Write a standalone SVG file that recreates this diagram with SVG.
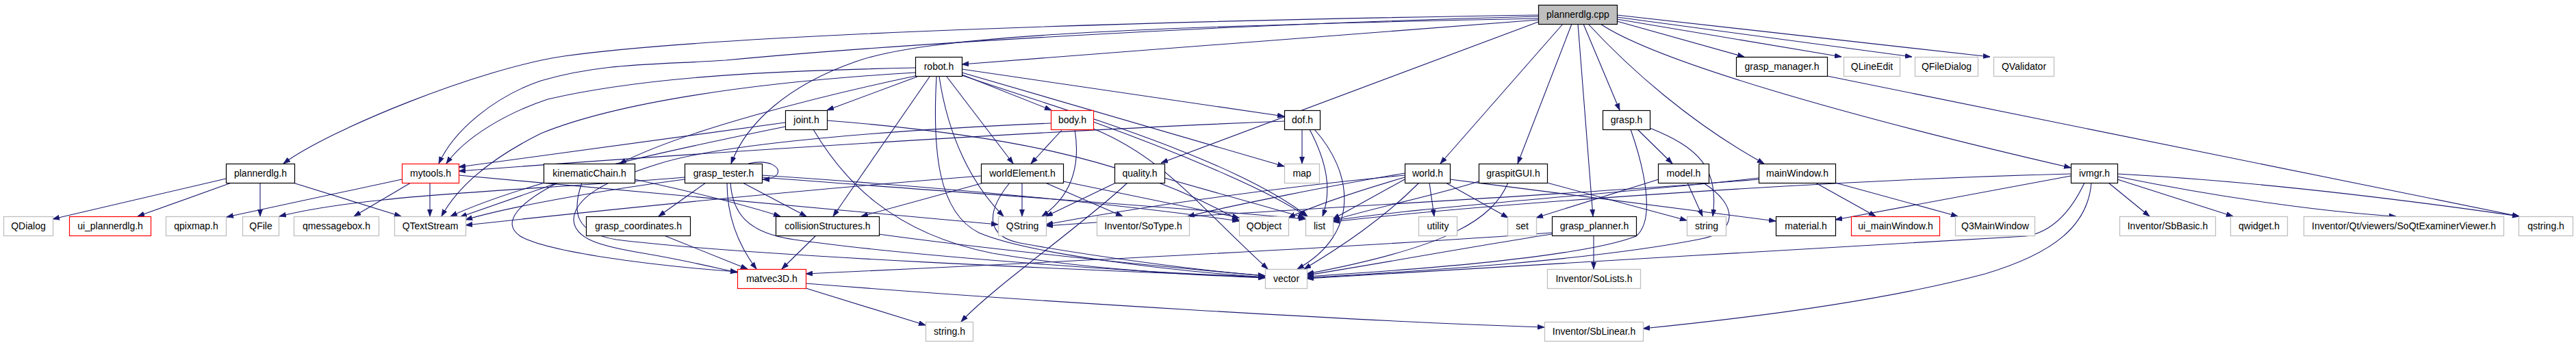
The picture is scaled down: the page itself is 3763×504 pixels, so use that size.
<svg xmlns="http://www.w3.org/2000/svg" width="3763" height="504" viewBox="0 0 3763 504">
<style>
.n rect{fill:#fff;stroke:#000;stroke-width:1.2}
.n.g rect{stroke:#bfbfbf;stroke-width:1.3}
.n.r rect{stroke:#ff0000;stroke-width:1.2}
.n.root rect{fill:#bfbfbf;stroke:#000}
.n text{font-family:"Liberation Sans",Arial,sans-serif;font-size:14px;fill:#000;text-anchor:middle}
#edges path{fill:none;stroke:#191970;stroke-width:1.1;marker-end:url(#a)}
</style>
<defs>
<marker id="a" markerWidth="11" markerHeight="8" refX="10" refY="4" orient="auto" markerUnits="userSpaceOnUse">
<path d="M0,0.5 L10,4 L0,7.5 z" fill="#191970" stroke="#191970" stroke-width="0.8"/>
</marker>
</defs>
<rect width="3763" height="504" fill="#fff"/>
<g id="edges">
<!-- plannerdlg.cpp -->
<path d="M2247,22 C1700,30 1050,50 824,82 C700,100 480,190 414,239"/>
<path d="M2247,24 C1800,35 1300,65 1060,88 C950,95 880,92 790,118 C720,142 662,192 641,239"/>
<path d="M2247,29 L1405,94"/>
<path d="M2247,27 C1600,40 1350,55 1250,90 C1150,125 1090,180 1068,239"/>
<path d="M2247,32 L1696,238"/>
<path d="M2283,35 L2104,239"/>
<path d="M2296,35 L2217,239"/>
<path d="M2305,35 L2327,316"/>
<path d="M2313,35 L2366,161"/>
<path d="M2320,35 C2380,100 2470,180 2577,239"/>
<path d="M2338,35 C2420,90 2700,170 3025,245"/>
<path d="M2362,31 L2548,83"/>
<path d="M2362,28 L2690,83"/>
<path d="M2362,25 L2793,83"/>
<path d="M2362,22 L2907,83"/>
<!-- plannerdlg.h -->
<path d="M330,261 L77,320"/>
<path d="M338,267 L201,316"/>
<path d="M380,267 L380,316"/>
<path d="M428,267 L586,316"/>
<!-- mytools.h -->
<path d="M587,262 L331,317"/>
<path d="M600,267 L517,316"/>
<path d="M628,267 L628,316"/>
<path d="M670,256 L1458,328"/>
<!-- robot.h -->
<path d="M1337,99 C1150,103 950,110 800,145 C740,165 680,200 652,239"/>
<path d="M1337,106 C1100,120 900,150 790,195 C720,230 670,270 645,316"/>
<path d="M1337,111 C1200,140 1000,190 905,239"/>
<path d="M1340,112 L1208,161"/>
<path d="M1358,112 L1217,316"/>
<path d="M1368,112 C1362,220 1370,310 1430,340 C1500,370 1700,395 1848,405"/>
<path d="M1372,112 C1385,200 1420,270 1466,316"/>
<path d="M1383,112 L1480,239"/>
<path d="M1405,109 L1536,161"/>
<path d="M1405,101 L1876,170"/>
<path d="M1405,106 L1876,243"/>
<path d="M1405,110 C1550,160 1800,230 1910,316"/>
<!-- joint.h -->
<path d="M1147,179 L670,244"/>
<path d="M1147,185 C1000,215 780,260 658,316"/>
<path d="M1188,189 C1230,260 1300,340 1450,370 C1600,395 1750,402 1848,406"/>
<path d="M1208,176 C1450,195 1650,230 1810,322"/>
<!-- body.h -->
<path d="M1552,189 L1506,239"/>
<path d="M1570,189 C1580,250 1560,290 1522,316"/>
<path d="M1597,178 C1700,215 1850,275 1908,316"/>
<path d="M1597,188 C1700,230 1750,300 1852,393"/>
<path d="M1535,180 C1300,190 1050,210 960,240 C880,265 840,290 838,320 C838,350 880,360 940,370 C1000,380 1040,390 1077,398"/>
<!-- dof.h -->
<path d="M1902,189 L1902,239"/>
<path d="M1913,189 C1940,240 1945,280 1932,316"/>
<path d="M1920,189 C1975,250 1990,340 1895,393"/>
<path d="M1876,177 C1500,192 1000,225 670,250"/>
<!-- kinematicChain.h -->
<path d="M815,267 L672,317"/>
<path d="M927,262 C1010,280 1090,300 1140,316"/>
<path d="M815,267 C760,295 730,325 760,345 C800,368 950,388 1077,397"/>
<path d="M850,267 C835,310 840,340 900,350 C1100,375 1600,395 1848,405"/>
<!-- grasp_tester.h -->
<path d="M1093,239 C1125,232 1142,245 1135,255 C1131,260 1125,262 1114,262"/>
<path d="M1031,267 L962,316"/>
<path d="M1085,267 L1178,316"/>
<path d="M1062,267 C1062,320 1080,360 1105,393"/>
<path d="M1000,262 C900,275 750,300 680,321"/>
<path d="M1000,259 C850,272 650,281 560,292 C480,300 440,308 408,316"/>
<path d="M1067,267 C1070,310 1090,340 1160,350 C1300,370 1600,395 1848,405"/>
<path d="M1113,256 C1400,275 1650,300 1810,323"/>
<path d="M1113,259 C1450,285 1750,305 1907,320"/>
<!-- grasp_coordinates.h / collisionStructures.h -->
<path d="M970,344 L1092,393"/>
<path d="M1192,344 L1142,393"/>
<path d="M1283,342 C1450,365 1700,390 1848,403"/>
<!-- worldElement.h -->
<path d="M1493,267 L1493,316"/>
<path d="M1437,267 L1258,316"/>
<path d="M1433,257 C1200,275 900,305 680,329"/>
<path d="M1475,267 C1440,310 1440,345 1490,355 C1600,375 1750,395 1848,403"/>
<path d="M1527,267 L1640,316"/>
<path d="M1553,265 C1650,285 1750,305 1810,318"/>
<!-- quality.h -->
<path d="M1630,267 L1528,316"/>
<path d="M1647,267 C1580,330 1450,420 1404,470"/>
<path d="M1701,260 L1906,318"/>
<!-- world.h -->
<path d="M2088,267 L2095,316"/>
<path d="M2112,267 L2203,318"/>
<path d="M2073,267 C2020,320 1960,360 1905,393"/>
<path d="M2052,262 L1947,320"/>
<path d="M2052,256 C1850,275 1650,305 1528,328"/>
<path d="M2052,253 C1950,270 1800,300 1735,316"/>
<path d="M2052,259 C1980,280 1920,300 1882,318"/>
<path d="M2118,262 C2300,285 2500,310 2594,323"/>
<!-- graspitGUI.h -->
<path d="M2203,267 C2180,320 2120,360 1909,400"/>
<path d="M2160,265 C2100,285 2000,305 1947,322"/>
<path d="M2260,267 L2464,322"/>
<!-- grasp.h / model.h -->
<path d="M2392,189 L2443,239"/>
<path d="M2410,187 C2480,215 2512,245 2502,316"/>
<path d="M2382,189 C2400,240 2420,320 2390,345 C2300,380 2000,398 1909,404"/>
<path d="M2423,262 L2244,318"/>
<path d="M2465,267 L2487,316"/>
<path d="M2488,267 C2540,300 2540,340 2480,350 C2300,385 2000,400 1909,406"/>
<!-- grasp_planner.h -->
<path d="M2328,344 L2328,393"/>
<path d="M2267,342 C2150,360 2000,388 1909,402"/>
<path d="M2267,340 C2000,360 1500,385 1177,400"/>
<!-- mainWindow.h -->
<path d="M2652,267 L2740,316"/>
<path d="M2681,267 L2860,316"/>
<path d="M2569,260 C2400,280 2100,300 1947,322"/>
<path d="M2569,262 C2300,285 1800,310 1528,330"/>
<!-- ivmgr.h -->
<path d="M3025,257 L2681,321"/>
<path d="M3025,254 C2700,262 2200,295 1947,324"/>
<path d="M3045,267 C3020,320 2990,340 2960,345 C2700,360 2100,395 1909,407"/>
<path d="M3055,267 C3050,330 3000,370 2900,400 C2750,440 2550,465 2400,480"/>
<path d="M3080,267 L3140,316"/>
<path d="M3093,262 L3262,316"/>
<path d="M3093,258 C3250,290 3400,310 3500,316"/>
<path d="M3093,254 C3300,265 3500,290 3680,316"/>
<!-- grasp_manager.h -->
<path d="M2669,111 L3680,316"/>
<!-- matvec3D.h -->
<path d="M1177,421 L1352,475"/>
<path d="M1177,414 C1500,440 2000,470 2256,478"/>
</g>
<!-- rank 0 -->
<g id="n_plannerdlg_cpp" class="n root"><rect x="2247.5" y="7.5" width="115" height="28"/><text x="2305" y="26">plannerdlg.cpp</text></g>
<!-- rank 1 -->
<g id="n_robot_h" class="n"><rect x="1337.5" y="83.5" width="68" height="28"/><text x="1371.5" y="102">robot.h</text></g>
<g id="n_grasp_manager_h" class="n"><rect x="2536.5" y="83.5" width="133" height="28"/><text x="2603" y="102">grasp_manager.h</text></g>
<g id="n_QLineEdit" class="n g"><rect x="2693.5" y="83.5" width="82" height="28"/><text x="2734.5" y="102">QLineEdit</text></g>
<g id="n_QFileDialog" class="n g"><rect x="2797.5" y="83.5" width="92" height="28"/><text x="2843.5" y="102">QFileDialog</text></g>
<g id="n_QValidator" class="n g"><rect x="2912.5" y="83.5" width="88" height="28"/><text x="2956.5" y="102">QValidator</text></g>
<!-- rank 2 -->
<g id="n_joint_h" class="n"><rect x="1147.5" y="161.5" width="61" height="28"/><text x="1178" y="180">joint.h</text></g>
<g id="n_body_h" class="n r"><rect x="1535.5" y="161.5" width="62" height="28"/><text x="1566.5" y="180">body.h</text></g>
<g id="n_dof_h" class="n"><rect x="1876.5" y="161.5" width="52" height="28"/><text x="1902.5" y="180">dof.h</text></g>
<g id="n_grasp_h" class="n"><rect x="2341.5" y="161.5" width="69" height="28"/><text x="2376" y="180">grasp.h</text></g>
<!-- rank 3 -->
<g id="n_plannerdlg_h" class="n"><rect x="330.5" y="239.5" width="100" height="28"/><text x="380.5" y="258">plannerdlg.h</text></g>
<g id="n_mytools_h" class="n r"><rect x="587.5" y="239.5" width="83" height="28"/><text x="629" y="258">mytools.h</text></g>
<g id="n_kinematicChain_h" class="n"><rect x="794.5" y="239.5" width="133" height="28"/><text x="861" y="258">kinematicChain.h</text></g>
<g id="n_grasp_tester_h" class="n"><rect x="1000.5" y="239.5" width="113" height="28"/><text x="1057" y="258">grasp_tester.h</text></g>
<g id="n_worldElement_h" class="n"><rect x="1433.5" y="239.5" width="120" height="28"/><text x="1493.5" y="258">worldElement.h</text></g>
<g id="n_quality_h" class="n"><rect x="1628.5" y="239.5" width="73" height="28"/><text x="1665" y="258">quality.h</text></g>
<g id="n_map" class="n g"><rect x="1876.5" y="239.5" width="51" height="28"/><text x="1902" y="258">map</text></g>
<g id="n_world_h" class="n"><rect x="2052.5" y="239.5" width="66" height="28"/><text x="2085.5" y="258">world.h</text></g>
<g id="n_graspitGUI_h" class="n"><rect x="2160.5" y="239.5" width="100" height="28"/><text x="2210.5" y="258">graspitGUI.h</text></g>
<g id="n_model_h" class="n"><rect x="2422.5" y="239.5" width="74" height="28"/><text x="2459.5" y="258">model.h</text></g>
<g id="n_mainWindow_h" class="n"><rect x="2569.5" y="239.5" width="112" height="28"/><text x="2625.5" y="258">mainWindow.h</text></g>
<g id="n_ivmgr_h" class="n"><rect x="3025.5" y="239.5" width="68" height="28"/><text x="3059.5" y="258">ivmgr.h</text></g>
<!-- rank 4 -->
<g id="n_QDialog" class="n g"><rect x="5.5" y="316.5" width="72" height="28"/><text x="41.5" y="335">QDialog</text></g>
<g id="n_ui_plannerdlg_h" class="n r"><rect x="101.5" y="316.5" width="119" height="28"/><text x="161" y="335">ui_plannerdlg.h</text></g>
<g id="n_qpixmap_h" class="n g"><rect x="242.5" y="316.5" width="88" height="28"/><text x="286.5" y="335">qpixmap.h</text></g>
<g id="n_QFile" class="n g"><rect x="354.5" y="316.5" width="53" height="28"/><text x="381" y="335">QFile</text></g>
<g id="n_qmessagebox_h" class="n g"><rect x="429.5" y="316.5" width="124" height="28"/><text x="491.5" y="335">qmessagebox.h</text></g>
<g id="n_QTextStream" class="n g"><rect x="576.5" y="316.5" width="104" height="28"/><text x="628.5" y="335">QTextStream</text></g>
<g id="n_grasp_coordinates_h" class="n"><rect x="856.5" y="316.5" width="152" height="28"/><text x="932.5" y="335">grasp_coordinates.h</text></g>
<g id="n_collisionStructures_h" class="n"><rect x="1133.5" y="316.5" width="151" height="28"/><text x="1209" y="335">collisionStructures.h</text></g>
<g id="n_QString" class="n g"><rect x="1458.5" y="316.5" width="70" height="28"/><text x="1493.5" y="335">QString</text></g>
<g id="n_Inventor_SoType_h" class="n g"><rect x="1602.5" y="316.5" width="135" height="28"/><text x="1670" y="335">Inventor/SoType.h</text></g>
<g id="n_QObject" class="n g"><rect x="1810.5" y="316.5" width="72" height="28"/><text x="1846.5" y="335">QObject</text></g>
<g id="n_list" class="n g"><rect x="1907.5" y="316.5" width="40" height="28"/><text x="1927.5" y="335">list</text></g>
<g id="n_utility" class="n g"><rect x="2072.5" y="316.5" width="56" height="28"/><text x="2100.5" y="335">utility</text></g>
<g id="n_set" class="n g"><rect x="2202.5" y="316.5" width="42" height="28"/><text x="2223.5" y="335">set</text></g>
<g id="n_grasp_planner_h" class="n"><rect x="2267.5" y="316.5" width="123" height="28"/><text x="2329" y="335">grasp_planner.h</text></g>
<g id="n_string" class="n g"><rect x="2464.5" y="316.5" width="57" height="28"/><text x="2493" y="335">string</text></g>
<g id="n_material_h" class="n"><rect x="2594.5" y="316.5" width="87" height="28"/><text x="2638" y="335">material.h</text></g>
<g id="n_ui_mainWindow_h" class="n r"><rect x="2704.5" y="316.5" width="129" height="28"/><text x="2769" y="335">ui_mainWindow.h</text></g>
<g id="n_Q3MainWindow" class="n g"><rect x="2856.5" y="316.5" width="116" height="28"/><text x="2914.5" y="335">Q3MainWindow</text></g>
<g id="n_Inventor_SbBasic_h" class="n g"><rect x="3096.5" y="316.5" width="140" height="28"/><text x="3166.5" y="335">Inventor/SbBasic.h</text></g>
<g id="n_qwidget_h" class="n g"><rect x="3258.5" y="316.5" width="83" height="28"/><text x="3300" y="335">qwidget.h</text></g>
<g id="n_SoQtExaminerViewer_h" class="n g"><rect x="3365.5" y="316.5" width="292" height="28"/><text x="3511.5" y="335">Inventor/Qt/viewers/SoQtExaminerViewer.h</text></g>
<g id="n_qstring_h" class="n g"><rect x="3679.5" y="316.5" width="79" height="28"/><text x="3719" y="335">qstring.h</text></g>
<!-- rank 5 -->
<g id="n_matvec3D_h" class="n r"><rect x="1077.5" y="393.5" width="100" height="28"/><text x="1127.5" y="412">matvec3D.h</text></g>
<g id="n_vector" class="n g"><rect x="1848.5" y="393.5" width="61" height="28"/><text x="1879" y="412">vector</text></g>
<g id="n_Inventor_SoLists_h" class="n g"><rect x="2260.5" y="393.5" width="136" height="28"/><text x="2328.5" y="412">Inventor/SoLists.h</text></g>
<!-- rank 6 -->
<g id="n_string_h" class="n g"><rect x="1352.5" y="470.5" width="69" height="28"/><text x="1387" y="489">string.h</text></g>
<g id="n_Inventor_SbLinear_h" class="n g"><rect x="2256.5" y="470.5" width="144" height="28"/><text x="2328.5" y="489">Inventor/SbLinear.h</text></g>
</svg>
